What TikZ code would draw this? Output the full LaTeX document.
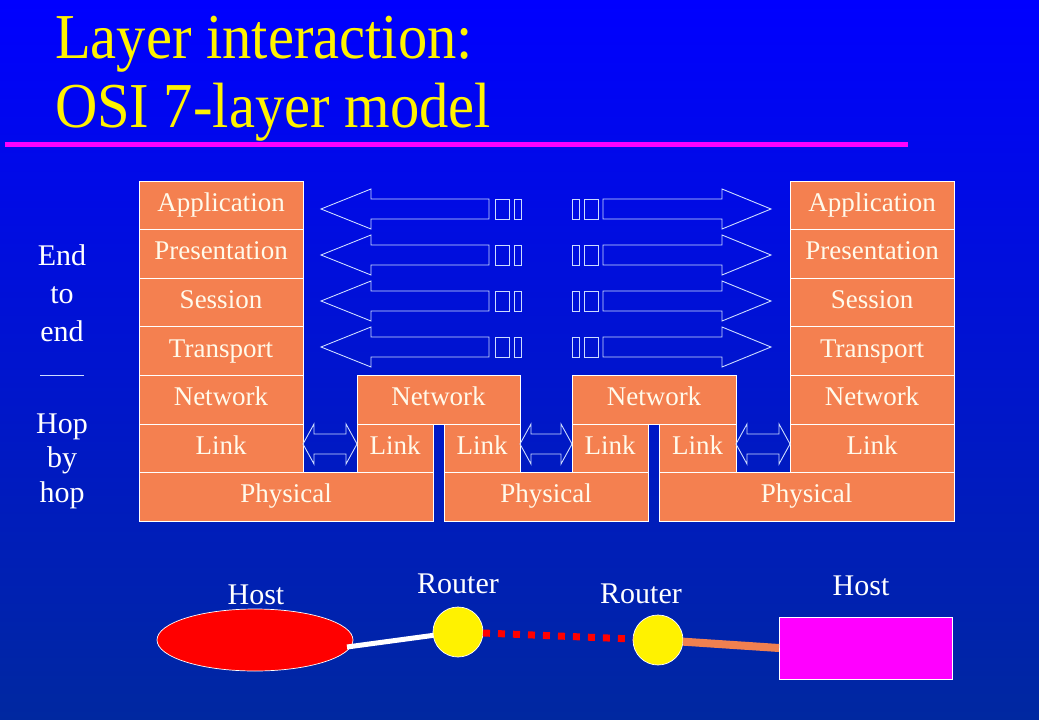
\documentclass[tikz,border=0pt]{standalone}
\usepackage{fontspec}
\usepackage{graphicx}
\setmainfont{Liberation Serif}
\usetikzlibrary{calc}
\usetikzlibrary{positioning}
\usetikzlibrary{shapes.geometric}
\definecolor{slidetop}{RGB}{0,0,255}
\definecolor{slidemid}{RGB}{0,22,212}
\definecolor{slidebot}{RGB}{0,40,160}
\definecolor{layerfill}{RGB}{244,128,80}
\definecolor{layertext}{RGB}{255,250,235}
\definecolor{pipeline}{RGB}{205,220,255}
\definecolor{cableorange}{RGB}{240,128,80}
\definecolor{hostpink}{RGB}{255,0,255}
\tikzset{
  every picture/.style={font=\fontsize{27}{30}\selectfont},
  every node/.style={inner sep=0pt, outer sep=0pt}}

\begin{document}
\begin{tikzpicture}[x=1pt, y=-1pt, node distance=0pt,
    layer/.style={draw=white, line width=0.7pt, fill=layerfill, text=layertext,
      minimum height=48.57pt, text height=18pt, text depth=6pt},
    peer/.style={draw=pipeline, line width=0.9pt, line join=miter},
    title/.style={text=yellow, font=\fontsize{64}{70}\selectfont, anchor=base west},
    tag/.style={text=white, font=\fontsize{30}{34}\selectfont, anchor=base},
    router/.style={draw=white, line width=0.7pt, fill=yellow, circle, minimum size=50pt}]

    % background
    \shade[top color=slidetop, middle color=slidemid, bottom color=slidebot]
      (0,0) rectangle (1039,720);

    % title
    \node[title] (TitleA) at (55,58) {\scalebox{0.915}[1]{Layer interaction:}};
    \node[title] (TitleB) at (55,127) {\scalebox{0.915}[1]{OSI 7-layer model}};
    \draw[hostpink, line width=5pt] (5,144) -- (908,144);

    % end host, left
    \begin{scope}[layer/.append style={minimum width=164pt}]
      \node[layer] (LApp) at (221,205.29) {Application};
      \node[layer] (LPre) [below=of LApp] {Presentation};
      \node[layer] (LSes) [below=of LPre] {Session};
      \node[layer] (LTra) [below=of LSes] {Transport};
      \node[layer] (LNet) [below=of LTra] {Network};
      \node[layer] (LLnk) [below=of LNet] {Link};
    \end{scope}
    \node[layer, minimum width=294pt, anchor=north west] (LPhy) at (LLnk.south west) {Physical};

    % first router
    \node[layer, minimum width=163pt] (R1Net) at (438.5,399.57) {Network};
    \node[layer, minimum width=76pt, anchor=north west] (R1LnkA) at (R1Net.south west) {Link};
    \node[layer, minimum width=76pt, anchor=north east] (R1LnkB) at (R1Net.south east) {Link};
    \node[layer, minimum width=204pt, anchor=north west] (MPhy) at (R1LnkB.south west) {Physical};

    % second router
    \node[layer, minimum width=164pt] (R2Net) at (654,399.57) {Network};
    \node[layer, minimum width=76pt, anchor=north west] (R2LnkA) at (R2Net.south west) {Link};
    \node[layer, minimum width=77pt, anchor=north east] (R2LnkB) at (R2Net.south east) {Link};
    \node[layer, minimum width=295pt, anchor=north west] (RPhy) at (R2LnkB.south west) {Physical};

    % end host, right
    \begin{scope}[layer/.append style={minimum width=164pt}]
      \node[layer] (RApp) at (872,205.29) {Application};
      \node[layer] (RPre) [below=of RApp] {Presentation};
      \node[layer] (RSes) [below=of RPre] {Session};
      \node[layer] (RTra) [below=of RSes] {Transport};
      \node[layer] (RNet) [below=of RTra] {Network};
      \node[layer] (RLnk) [below=of RNet] {Link};
    \end{scope}

    % peer to peer, end to end
    \foreach \row/\yc in {App/209, Pre/255, Ses/301, Tra/347} {
      \coordinate (tipL) at ($(L\row.east |- 0,\yc)+(18,0)$);
      \coordinate (tipR) at ($(R\row.west |- 0,\yc)+(-19,0)$);
      \draw[peer] (tipL) -- ++(50,-20) -- ++(0,10) -- ++(118,0) -- ++(0,20)
        -- ++(-118,0) -- ++(0,10) -- cycle;
      \draw[peer] ($(tipL)+(174,-10)$) rectangle ++(14,20);
      \draw[peer] ($(tipL)+(193,-10)$) rectangle ++(7,20);
      \draw[peer] (tipR) -- ++(-49,-20) -- ++(0,10) -- ++(-119,0) -- ++(0,20)
        -- ++(119,0) -- ++(0,10) -- cycle;
      \draw[peer] ($(tipR)+(-187,-10)$) rectangle ++(14,20);
      \draw[peer] ($(tipR)+(-199,-10)$) rectangle ++(7,20);
    }

    % hop by hop
    \foreach \from/\to in {LLnk/R1LnkA, R1LnkB/R2LnkA, R2LnkB/RLnk} {
      \coordinate (la) at (\from.east |- 0,444);
      \coordinate (lb) at (\to.west |- 0,444);
      \draw[peer] (la) -- ($(la)+(11,-20)$) -- ($(la)+(11,-10)$) -- ($(lb)+(-11,-10)$)
        -- ($(lb)+(-11,-20)$) -- (lb) -- ($(lb)+(-11,20)$) -- ($(lb)+(-11,10)$)
        -- ($(la)+(11,10)$) -- ($(la)+(11,20)$) -- cycle;
    }

    % side labels
    \foreach \word/\yb [count=\i] in {End/265, to/303, end/341, Hop/433, by/467, hop/502}
      \node[tag] (side\i) at (62,\yb) {\word};
    \draw[pipeline, line width=0.8pt] (40,375) -- (84,375);

    % the network below
    \node[ellipse, draw=white, line width=0.7pt, fill=red,
      minimum width=196pt, minimum height=62pt] (HostA) at (255,640) {};
    \node[router] (RouterA) at (458,632) {};
    \node[router] (RouterB) at (658,640) {};
    \node[draw=white, line width=0.7pt, fill=hostpink,
      minimum width=173pt, minimum height=62pt] (HostB) at (865.5,648) {};

    \node[tag] (HostATag) at (256,604) {Host};
    \node[tag] (RouterATag) at (458,593) {Router};
    \node[tag] (RouterBTag) at (641,603) {Router};
    \node[tag] (HostBTag) at (861,595) {Host};

    \draw[white, line width=5pt] ($(HostA.east)+(-6,7)$) -- (RouterA);
    \draw[red, line width=7pt, dash pattern=on 7pt off 8pt] (RouterA) -- (RouterB);
    \draw[cableorange, line width=8pt] (RouterB) -- (HostB.west);
  \end{tikzpicture}
\end{document}
